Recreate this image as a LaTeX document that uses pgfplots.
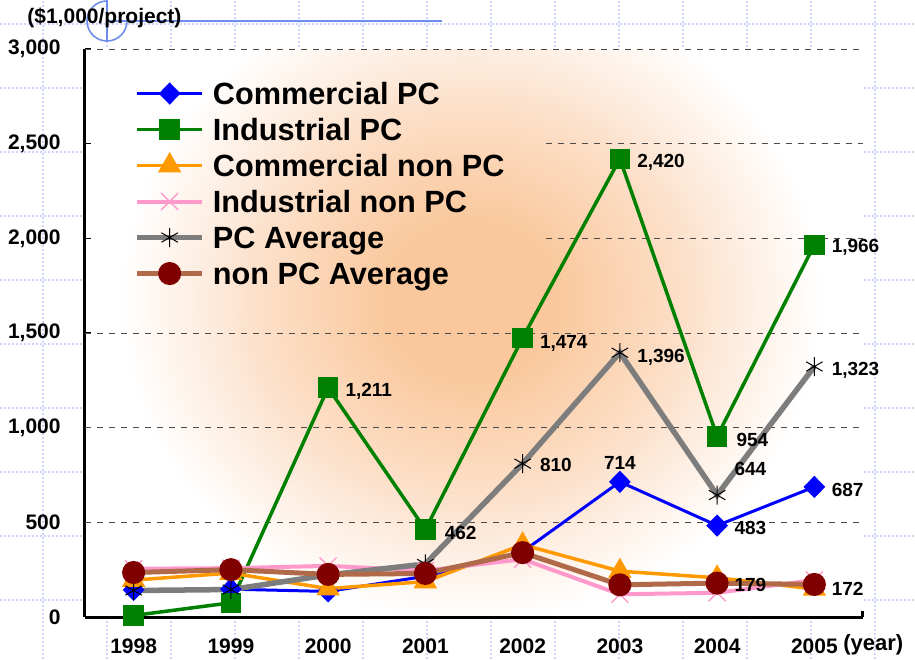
\documentclass[border=0pt]{standalone}
\usepackage{fontspec}
\setmainfont{Liberation Sans}
\usepackage{pgfplots}
\pgfplotsset{compat=1.18}
\definecolor{cpc}{RGB}{0,0,255}
\definecolor{ipc}{RGB}{0,128,0}
\definecolor{cnp}{RGB}{255,153,0}
\definecolor{inp}{RGB}{255,153,204}
\definecolor{pcavg}{RGB}{125,125,125}
\definecolor{npavg}{RGB}{176,106,74}
\definecolor{npmark}{RGB}{128,0,0}
\definecolor{gridblue}{RGB}{205,214,248}
\definecolor{artblue}{RGB}{110,140,235}
\definecolor{glowc}{RGB}{250,200,156}
\definecolor{glowm}{RGB}{252,223,200}
\pgfdeclareradialshading{glow}{\pgfpointorigin}{color(0bp)=(glowc); color(6bp)=(glowc); color(15bp)=(glowm); color(25bp)=(white); color(50bp)=(white)}
\tikzset{lbl/.style={anchor=west, inner sep=0pt, xshift=8.5pt, font=\fontsize{9.5}{11}\selectfont\bfseries, text height=6.8pt, text depth=0pt}}
\begin{document}
\begin{tikzpicture}[x=0.5pt,y=0.5pt]
\useasboundingbox (0,0) rectangle (915,659);
\foreach \i in {0,...,13} \draw[gridblue, line width=0.6pt, dash pattern=on 1pt off 1pt] ({43+64*\i},0) -- ({43+64*\i},659);
\foreach \j in {0,...,9} \draw[gridblue, line width=0.6pt, dash pattern=on 1pt off 1pt] (0,{635-64*\j}) -- (915,{635-64*\j});
\begin{axis}[
  at={(42.5pt,21pt)}, anchor=south west,
  scale only axis, width=389pt, height=284pt,
  xmin=-0.5, xmax=7.5, ymin=0, ymax=3000,
  clip=false,
  axis x line*=bottom, axis y line*=left,
  axis line style={line width=1.5pt, black, -},
  xtick={-0.5,0.5,...,7.5}, xticklabels={},
  extra x ticks={0,1,2,3,4,5,6,7},
  extra x tick labels={1998,1999,2000,2001,2002,2003,2004,2005},
  extra x tick style={major tick length=0pt},
  xticklabel style={font=\fontsize{10.5}{12}\selectfont\bfseries, anchor=north, inner sep=0pt, yshift=-10.5pt},
  ytick={0,500,1000,1500,2000,2500,3000},
  yticklabels={0,500,{1,000},{1,500},{2,000},{2,500},{3,000}},
  yticklabel style={font=\fontsize{10.5}{12}\selectfont\bfseries, anchor=east, inner sep=0pt, xshift=-12pt},
  tick align=inside, major tick length=3pt,
  xtick style={line width=1.5pt, black},
  ytick style={line width=0.8pt, black},
  axis background/.style={fill=white},
  legend style={at={(axis description cs:0.063,0.954)}, anchor=north west, draw=none, fill=none,
    inner sep=0pt, row sep=0pt, column sep=0pt,
    font=\fontsize{15.35}{18}\selectfont\bfseries,
    nodes={inner sep=0pt, text height=14.5pt, text depth=3.5pt},
    /tikz/every odd column/.style={column sep=4pt}},
  legend cell align=left,
  legend image code/.code={\draw[mark repeat=2, mark phase=2, #1] plot coordinates {(0pt,0pt) (16.25pt,0pt) (32.5pt,0pt)};},
]
% background glow
\begin{scope}
\clip ([xshift=0.8pt,yshift=0.8pt]axis cs:-0.5,0) rectangle (axis cs:7.5,3000);
\shade[shading=glow] (axis cs:-0.13,-16) rectangle (axis cs:7.07,3364);
\end{scope}
% grid lines
\draw[black!70, line width=0.5pt, dash pattern=on 3pt off 3pt] (axis cs:-0.5,500) -- (axis cs:7.5,500);
\draw[black!70, line width=0.5pt, dash pattern=on 3pt off 3pt] (axis cs:-0.5,1000) -- (axis cs:7.5,1000);
\draw[black!70, line width=0.5pt, dash pattern=on 3pt off 3pt] (axis cs:-0.5,1500) -- (axis cs:7.5,1500);
\draw[black!70, line width=0.5pt, dash pattern=on 3pt off 3pt] (axis cs:4.24,2000) -- (axis cs:7.5,2000);
\draw[black!70, line width=0.5pt, dash pattern=on 3pt off 3pt] (axis cs:4.24,2500) -- (axis cs:7.5,2500);
\draw[black!70, line width=0.5pt, dash pattern=on 3pt off 3pt] (axis cs:-0.5,3000) -- (axis cs:7.5,3000);

\addplot[cpc, line width=1.5pt, mark=diamond*, mark size=4.5pt, mark options={solid, xscale=1.3}]
  coordinates {(0,143) (1,147) (2,135) (3,215) (4,345) (5,714) (6,483) (7,687)};
\addplot[ipc, line width=1.75pt, mark=square*, mark size=4.25pt, mark options={solid}]
  coordinates {(0,8) (1,75) (2,1211) (3,462) (4,1474) (5,2420) (6,954) (7,1966)};
\addplot[cnp, line width=1.75pt, mark=triangle*, mark size=5pt, mark options={solid}]
  coordinates {(0,195) (1,232) (2,150) (3,187) (4,382) (5,242) (6,207) (7,148)};
\addplot[inp, line width=2pt, mark=x, mark size=6pt, mark options={solid, line width=0.7pt}]
  coordinates {(0,255) (1,258) (2,270) (3,245) (4,305) (5,120) (6,128) (7,195)};
\addplot[pcavg, line width=2.75pt, mark=asterisk, mark size=4.75pt, mark options={solid, black, line width=0.5pt}]
  coordinates {(0,140) (1,145) (2,222) (3,280) (4,810) (5,1396) (6,644) (7,1323)};
\addplot[npavg, line width=2.5pt, mark=*, mark size=4.5pt, mark options={solid, draw=npmark, fill=npmark}]
  coordinates {(0,235) (1,250) (2,225) (3,230) (4,340) (5,170) (6,179) (7,172)};
\legend{Commercial PC, Industrial PC, Commercial non PC, Industrial non PC, PC Average, non PC Average}

\node[lbl, yshift=-1pt] at (axis cs:2,1211) {1,211};
\node[lbl, xshift=1pt, yshift=-1.5pt] at (axis cs:3,462) {462};
\node[lbl, yshift=-2pt] at (axis cs:4,1474) {1,474};
\node[lbl, yshift=-1pt] at (axis cs:5,2420) {2,420};
\node[lbl, xshift=1pt, yshift=-1.5pt] at (axis cs:6,954) {954};
\node[lbl, yshift=-0.5pt] at (axis cs:7,1966) {1,966};
\node[lbl, yshift=-0.5pt] at (axis cs:4,810) {810};
\node[lbl, yshift=-1.5pt] at (axis cs:5,1396) {1,396};
\node[lbl, yshift=13pt] at (axis cs:6,644) {644};
\node[lbl, yshift=-1pt] at (axis cs:7,1323) {1,323};
\node[lbl, anchor=south, xshift=-8.5pt, yshift=6pt] at (axis cs:5,714) {714};
\node[lbl, yshift=-1pt] at (axis cs:6,483) {483};
\node[lbl, yshift=-1.5pt] at (axis cs:7,687) {687};
\node[lbl, yshift=-1pt] at (axis cs:6,179) {179};
\node[lbl, yshift=-2pt] at (axis cs:7,172) {172};
\end{axis}
% decoration at top left
\draw[artblue, line width=0.8pt] (107,659) -- (107,617);
\draw[artblue, line width=0.8pt] (107,638) -- (442,638);
\draw[artblue, line width=0.8pt] (107,658) arc[start angle=90, end angle=360, radius=20];
\node[anchor=west, inner sep=0pt, font=\fontsize{10.5}{12}\selectfont\bfseries] at (27,641) {(\$1,000/project)};
\node[anchor=west, inner sep=0pt, font=\fontsize{11}{12}\selectfont\bfseries] at (843,14) {(year)};
\end{tikzpicture}
\end{document}
